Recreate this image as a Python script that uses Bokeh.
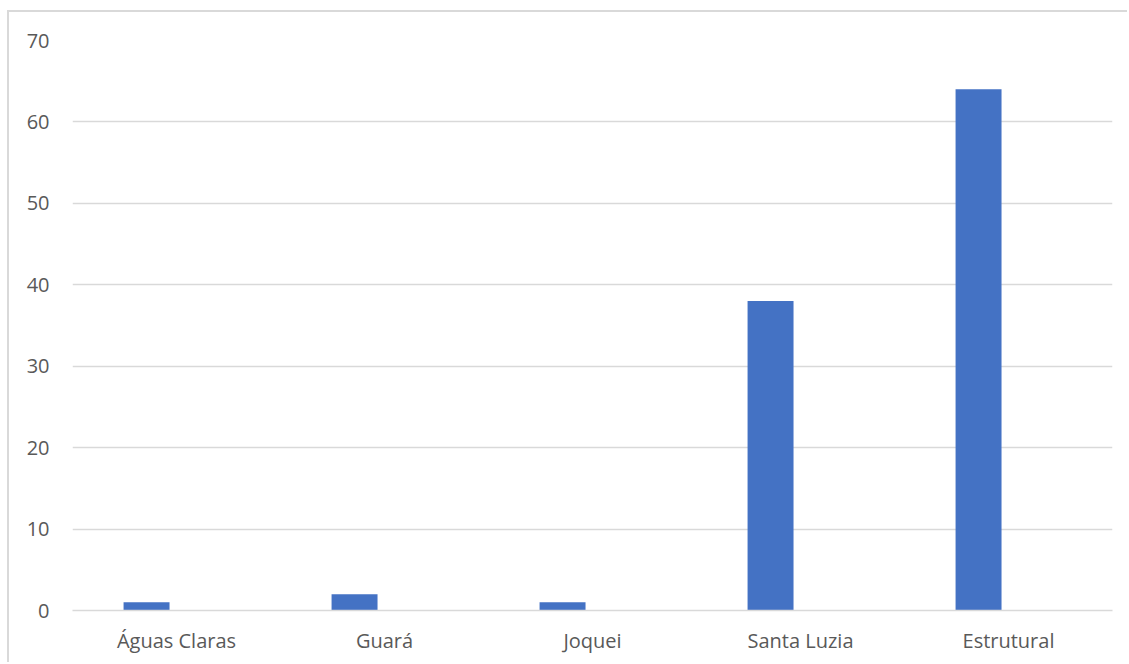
from bokeh.plotting import figure
from bokeh.models import FactorRange, ColumnDataSource
from bokeh.transform import dodge
from bokeh.embed import file_html
from bokeh.resources import INLINE

categories = ["Águas Claras", "Guará", "Joquei", "Santa Luzia", "Estrutural"]
values = [1, 2, 1, 38, 64]
y_ticks = [0, 10, 20, 30, 40, 50, 60, 70]

src = ColumnDataSource(dict(cat=categories, val=values))

W, H = 1120, 652
p = figure(x_range=FactorRange(*categories, range_padding=0), y_range=(0, 70),
           width=W, height=H, output_backend="svg", toolbar_location=None,
           min_border_left=63, min_border_right=17, min_border_top=28, min_border_bottom=54,
           styles={"margin-left": "7px", "margin-top": "10px",
                   "border-left": "2px solid #d9d9d9", "border-top": "2px solid #d9d9d9"})
p.outline_line_color = None
p.background_fill_color = "white"
p.border_fill_color = "white"

p.vbar(x=dodge("cat", -0.144, range=p.x_range), top="val", width=0.221, bottom=0,
       source=src, fill_color="#4472C4", line_color=None)

p.xgrid.grid_line_color = None
p.ygrid.grid_line_color = "#d9d9d9"
p.ygrid.grid_line_width = 1.5
p.yaxis.ticker = y_ticks

font = "Open Sans"
for ax in (p.xaxis, p.yaxis):
    ax.major_tick_line_color = None
    ax.minor_tick_line_color = None
    ax.major_label_text_font = font
    ax.major_label_text_font_size = "20px"
    ax.major_label_text_color = "#595959"
p.yaxis.axis_line_color = None
p.xaxis.axis_line_color = "#d9d9d9"
p.xaxis.axis_line_width = 1.5
p.yaxis.major_label_standoff = 17
p.xaxis.major_label_standoff = 10

open("out.html", "w").write(file_html(p, INLINE))
